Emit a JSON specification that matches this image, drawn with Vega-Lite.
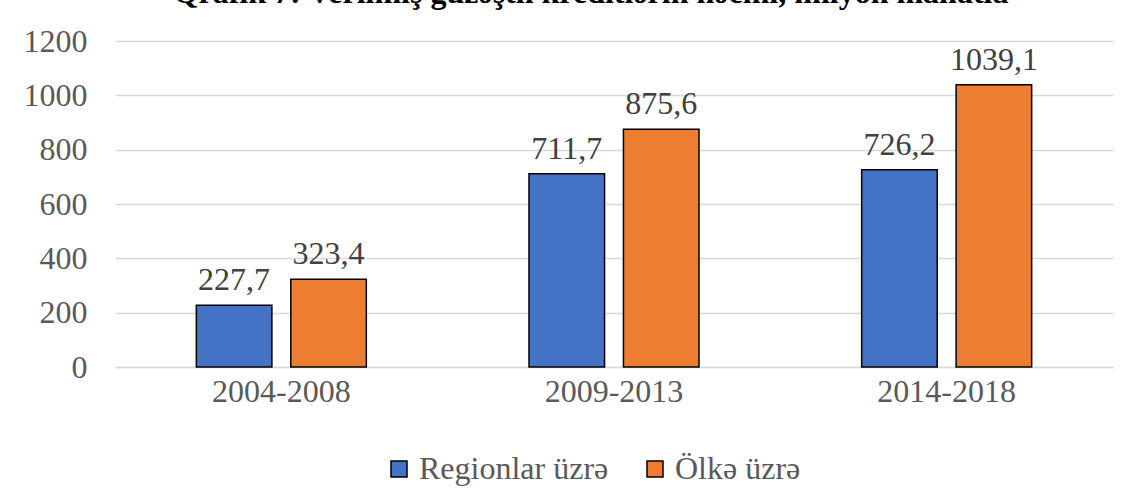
{
  "$schema": "https://vega.github.io/schema/vega-lite/v6.json",
  "width": 998,
  "height": 326,
  "autosize": {"type": "none"},
  "padding": {"left": 115, "top": 41, "right": 20, "bottom": 132},
  "background": "white",
  "config": {
    "locale": {"number": {"decimal": ",", "thousands": "", "grouping": [3], "currency": ["", ""]}},
    "font": "Liberation Serif",
    "view": {"stroke": null}
  },
  "title": {
    "text": "Qrafik 7: Verilmiş güzəştli kreditlərin həcmi, milyon manatla",
    "font": "Liberation Serif",
    "fontSize": 32,
    "fontWeight": "bold",
    "color": "#000000",
    "baseline": "alphabetic",
    "offset": 0,
    "dy": 10,
    "anchor": "middle",
    "dx": -23
  },
  "data": {
    "values": [
      {"period": "2004-2008", "series": "Regionlar üzrə", "value": 227.7},
      {"period": "2004-2008", "series": "Ölkə üzrə", "value": 323.4},
      {"period": "2009-2013", "series": "Regionlar üzrə", "value": 711.7},
      {"period": "2009-2013", "series": "Ölkə üzrə", "value": 875.6},
      {"period": "2014-2018", "series": "Regionlar üzrə", "value": 726.2},
      {"period": "2014-2018", "series": "Ölkə üzrə", "value": 1039.1}
    ]
  },
  "encoding": {
    "x": {
      "field": "period",
      "type": "nominal",
      "scale": {"paddingInner": 0.489, "paddingOuter": 0.2445},
      "axis": {
        "title": null,
        "labelAngle": 0,
        "labelFont": "Liberation Serif",
        "labelFontSize": 32,
        "labelColor": "#595959",
        "labelPadding": 9,
        "ticks": false,
        "domainColor": "#d9d9d9",
        "domainWidth": 1.5
      }
    },
    "xOffset": {
      "field": "series",
      "type": "nominal",
      "sort": ["Regionlar üzrə", "Ölkə üzrə"],
      "scale": {"paddingInner": 0.2, "paddingOuter": 0}
    },
    "y": {
      "field": "value",
      "type": "quantitative",
      "scale": {"domain": [0, 1200], "nice": false},
      "axis": {
        "title": null,
        "values": [0, 200, 400, 600, 800, 1000, 1200],
        "format": "d",
        "labelFont": "Liberation Serif",
        "labelFontSize": 32,
        "labelColor": "#595959",
        "labelPadding": 28,
        "ticks": false,
        "domain": false,
        "gridColor": "#d9d9d9",
        "gridWidth": 1.5
      }
    }
  },
  "layer": [
    {
      "mark": {"type": "bar", "stroke": "#000000", "strokeWidth": 1.5},
      "encoding": {
        "color": {
          "field": "series",
          "type": "nominal",
          "sort": ["Regionlar üzrə", "Ölkə üzrə"],
          "scale": {"domain": ["Regionlar üzrə", "Ölkə üzrə"], "range": ["#4472C4", "#ED7D31"]},
          "legend": {
            "title": null,
            "orient": "none",
            "direction": "horizontal",
            "legendX": 268,
            "legendY": 412,
            "symbolType": "square",
            "symbolSize": 256,
            "symbolStrokeColor": "#000000",
            "symbolStrokeWidth": 1.5,
            "labelFont": "Liberation Serif",
            "labelFontSize": 32,
            "labelColor": "#595959",
            "labelOffset": 4,
            "labelLimit": 0,
            "columnPadding": 30
          }
        }
      }
    },
    {
      "mark": {"type": "text", "baseline": "bottom", "dy": -8, "fontSize": 32, "font": "Liberation Serif", "color": "#404040"},
      "encoding": {
        "text": {"field": "value", "type": "quantitative", "format": ".1f"}
      }
    }
  ]
}
